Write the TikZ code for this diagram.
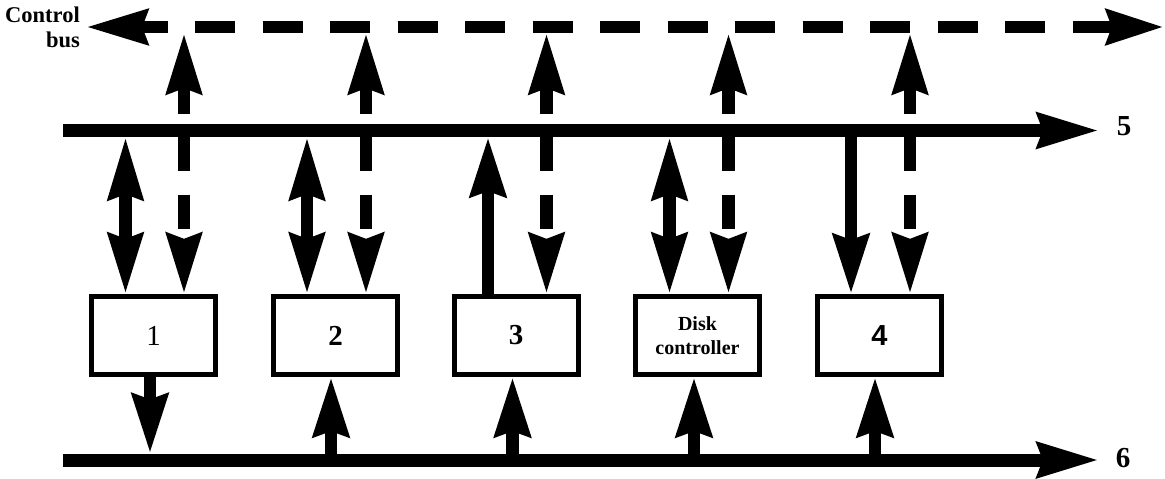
\documentclass[tikz,border=0pt]{standalone}
\usepackage{fontspec}
\setmainfont{Liberation Serif}
\newfontfamily\sansfnt{Liberation Sans}
\usetikzlibrary{arrows.meta}
\begin{document}
\begin{tikzpicture}[x=1pt,y=-1pt,
  bus/.style={line width=13pt,-{Stealth[length=61pt,width=34pt,inset=5pt]}},
  cbus/.style={line width=12.5pt,{Stealth[length=61pt,width=34pt,inset=5pt]}-{Stealth[length=57pt,width=34pt,inset=5pt]},dash pattern=on 40pt off 27.5pt,dash phase=11pt},
  unit/.style={draw,line width=5pt,minimum width=124pt,minimum height=78pt,inner sep=0pt,font=\fontsize{29}{29}\selectfont\bfseries},
  link/.style={line width=12.5pt},
  dbl/.style={link,{Stealth[length=62pt,width=34pt,inset=5pt]}-{Stealth[length=60pt,width=34pt,inset=5pt]}},
  dctl/.style={link,{Stealth[length=60pt,width=34pt,inset=5pt]}-{Stealth[length=60pt,width=34pt,inset=5pt]},dash pattern=on 34pt off 23.5pt,dash phase=5pt},
  one/.style={link,-{Stealth[length=59pt,width=35pt,inset=5pt]}},
  lbl/.style={font=\fontsize{29}{29}\selectfont\bfseries,inner sep=0pt},
  cbl/.style={font=\fontsize{22.5}{25}\selectfont\bfseries,inner sep=0pt}]
\useasboundingbox (0,0) rectangle (1165,479);

% bus reference coordinates
\coordinate (cbL) at (86,27);
\coordinate (cbR) at (1164,27);
\coordinate (b5L) at (63,130.5);
\coordinate (b5R) at (1099,130.5);
\coordinate (b6L) at (63,460);
\coordinate (b6R) at (1099,460);
\coordinate (cbB) at (0,33);
\coordinate (b5B) at (0,137);
\coordinate (b5C) at (0,130.5);
\coordinate (b6T) at (0,453.5);
\coordinate (b6C) at (0,460);

% units
\node[unit] (m1) at (153.5,335.5) {\mdseries 1};
\node[unit] (m2) at (335.5,335.5) {2};
\node[unit] (m3) at (516,335.5) {3};
\node[unit,font=\fontsize{20}{24}\selectfont\bfseries,align=center] (dc) at (697.5,335.5) {Disk\\controller};
\node[unit,font=\fontsize{29}{29}\selectfont\sansfnt\bfseries] (m4) at (879.5,335.5) {4};

% buses
\draw[cbus] (cbL) -- (cbR);
\draw[bus] (b5L) -- (b5R);
\draw[bus] (b6L) -- (b6R);

% labels
\node[cbl,anchor=base east] (cl1) at (80,22) {Control};
\node[cbl,anchor=base east] (cl2) at (80,47) {bus};
\node[lbl,anchor=base] (l5) at (1124,135) {5};
\node[lbl,anchor=base] (l6) at (1123,467) {6};

% unit 1
\draw[dbl] ([xshift=-28pt]m1.north |- b5B) -- ([xshift=-28pt]m1.north);
\draw[dctl] ([xshift=30.5pt]m1.north |- cbB) -- ([xshift=30.5pt]m1.north);
\draw[one] ([xshift=-3.5pt]m1.south) -- ([xshift=-3.5pt]m1.south |- b6T);
% unit 2
\draw[dbl] ([xshift=-28.5pt]m2.north |- b5B) -- ([xshift=-28.5pt]m2.north);
\draw[dctl] ([xshift=30.5pt]m2.north |- cbB) -- ([xshift=30.5pt]m2.north);
\draw[one] ([xshift=-4.5pt]m2.south |- b6C) -- ([xshift=-4.5pt]m2.south);
% unit 3
\draw[one] ([xshift=-28pt]m3.north) -- ([xshift=-28pt]m3.north |- b5B);
\draw[dctl] ([xshift=30.5pt]m3.north |- cbB) -- ([xshift=30.5pt]m3.north);
\draw[one] ([xshift=-3.5pt]m3.south |- b6C) -- ([xshift=-3.5pt]m3.south);
% disk controller
\draw[dbl] ([xshift=-28pt]dc.north |- b5B) -- ([xshift=-28pt]dc.north);
\draw[dctl] ([xshift=31pt]dc.north |- cbB) -- ([xshift=31pt]dc.north);
\draw[one] ([xshift=-3.5pt]dc.south |- b6C) -- ([xshift=-3.5pt]dc.south);
% unit 4
\draw[one] ([xshift=-28.5pt]m4.north |- b5C) -- ([xshift=-28.5pt]m4.north);
\draw[dctl] ([xshift=30.5pt]m4.north |- cbB) -- ([xshift=30.5pt]m4.north);
\draw[one] ([xshift=-4.5pt]m4.south |- b6C) -- ([xshift=-4.5pt]m4.south);
\end{tikzpicture}
\end{document}
